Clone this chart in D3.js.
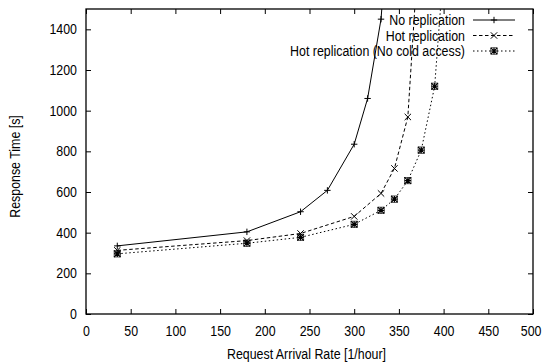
<!DOCTYPE html>
<html><head><meta charset="utf-8">
<script src="https://cdn.jsdelivr.net/npm/d3@7"></script>
<style>body{margin:0;background:#fff}svg{display:block}text{font-family:"Liberation Sans",Arial,sans-serif;fill:#000}</style>
</head><body>
<svg id="c" width="543" height="363"></svg>
<script>
const xTicks=[0,50,100,150,200,250,300,350,400,450,500];
const yTicks=[0,200,400,600,800,1000,1200,1400];
const seriesNames=["No replication","Hot replication","Hot replication (No cold access)"];
const noRepX=[35,180,240,270,300,315,330,345];
const noRepY=[335,404,503,608,835,1060,1450,2300];
const hotX=[35,180,240,300,330,345,360,375];
const hotY=[313,361,396,480,593,716,969,2000];
const coldX=[35,180,240,300,330,345,360,375,390,405];
const coldY=[296,348,377,441,510,565,656,806,1120,2000];

const svg=d3.select("#c");
const L=86,R=533,T=9,B=314;
const x=d3.scaleLinear().domain([0,500]).range([L,R]);
const y=d3.scaleLinear().domain([0,1500]).range([B,T]);
const fs="14px";

svg.append("defs").append("clipPath").attr("id","clip").append("rect").attr("x",L).attr("y",T).attr("width",R-L).attr("height",B-T);

const gx=svg.append("g").attr("transform",`translate(0,${B})`).call(d3.axisBottom(x).tickValues(xTicks).tickSize(-5).tickPadding(12).tickFormat(d3.format("d")));
const gxt=svg.append("g").attr("transform",`translate(0,${T})`).call(d3.axisTop(x).tickValues(xTicks).tickSize(-5).tickFormat(""));
const gy=svg.append("g").attr("transform",`translate(${L},0)`).call(d3.axisLeft(y).tickValues(yTicks).tickSize(-5).tickPadding(9).tickFormat(d3.format("d")));
const gyr=svg.append("g").attr("transform",`translate(${R},0)`).call(d3.axisRight(y).tickValues(yTicks).tickSize(-5).tickFormat(""));
[gx,gxt,gy,gyr].forEach(g=>{g.select(".domain").remove();g.selectAll("line").attr("stroke","#000");g.selectAll("text").style("font-size",fs).style("font-family",'"Liberation Sans",Arial,sans-serif');});
gx.selectAll(".tick").filter(d=>d===500).select("text").attr("text-anchor","end").attr("x",8);
svg.append("rect").attr("x",L).attr("y",T).attr("width",R-L).attr("height",B-T).attr("fill","none").attr("stroke","#000").attr("stroke-width",1.3);

svg.append("text").attr("x",(L+R)/2-3).attr("y",359).attr("text-anchor","middle").style("font-size",fs).text("Request Arrival Rate [1/hour]");
svg.append("text").attr("transform",`translate(20,${(T+B)/2+5}) rotate(-90)`).attr("text-anchor","middle").style("font-size",fs).text("Response Time [s]");

const line=d3.line().x(d=>x(d[0])).y(d=>y(d[1]));
const series=[
 {xs:noRepX,ys:noRepY,dash:null,mk:"plus"},
 {xs:hotX,ys:hotY,dash:"3.5,2.5",mk:"cross"},
 {xs:coldX,ys:coldY,dash:"1.5,2.5",mk:"star"}
];
function marker(g,cx,cy,type){
  const s=3.2;
  if(type==="plus"){
    g.append("path").attr("d",`M${cx-s},${cy}H${cx+s}M${cx},${cy-s}V${cy+s}`).attr("stroke","#000").attr("stroke-width",1);
  }else if(type==="cross"){
    g.append("path").attr("d",`M${cx-s},${cy-s}L${cx+s},${cy+s}M${cx-s},${cy+s}L${cx+s},${cy-s}`).attr("stroke","#000").attr("stroke-width",1);
  }else{
    g.append("path").attr("d",`M${cx-s},${cy}H${cx+s}M${cx},${cy-s}V${cy+s}M${cx-s},${cy-s}L${cx+s},${cy+s}M${cx-s},${cy+s}L${cx+s},${cy-s}`).attr("stroke","#000").attr("stroke-width",1.2);
    g.append("rect").attr("x",cx-s).attr("y",cy-s).attr("width",2*s).attr("height",2*s).attr("fill","none").attr("stroke","#000").attr("stroke-width",0.6);
  }
}
const plot=svg.append("g").attr("clip-path","url(#clip)");
series.forEach(s=>{
  const data=s.xs.map((v,i)=>[v,s.ys[i]]);
  plot.append("path").datum(data).attr("d",line).attr("fill","none").attr("stroke","#000").attr("stroke-width",1).attr("stroke-dasharray",s.dash);
  data.forEach(d=>marker(plot,x(d[0]),y(d[1]),s.mk));
});

const ly=[20,35.5,51];
series.forEach((s,i)=>{
  svg.append("text").attr("x",465).attr("y",ly[i]+5).attr("text-anchor","end").style("font-size",fs).text(seriesNames[i]);
  svg.append("line").attr("x1",473).attr("x2",515).attr("y1",ly[i]).attr("y2",ly[i]).attr("stroke","#000").attr("stroke-width",1).attr("stroke-dasharray",s.dash);
  marker(svg,494,ly[i],s.mk);
});

svg.selectAll("text").each(function(){
  const w=this.getComputedTextLength();
  if(w>0){d3.select(this).attr("textLength",w*0.885).attr("lengthAdjust","spacingAndGlyphs");}
});
</script>
</body></html>
